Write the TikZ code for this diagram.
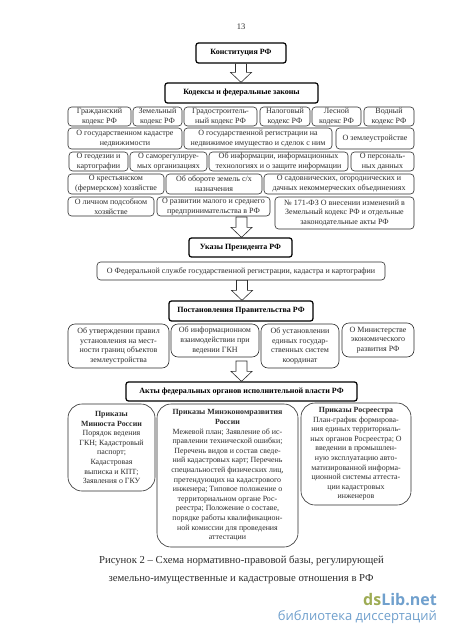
\documentclass[tikz,border=0pt]{standalone}
\usepackage{fontspec}
\setmainfont{Liberation Serif}
\newfontfamily\wmfont{Open Sans}
\usetikzlibrary{calc}
\definecolor{dsolive}{RGB}{158,172,84}
\definecolor{dsblue}{RGB}{112,160,205}
\definecolor{inkgray}{RGB}{45,45,45}
\tikzset{
  x=1pt,y=-1pt,
  basebox/.style={align=center,inner sep=0pt,text=black,font=\fontsize{8}{9.8}\selectfont},
  thinbox/.style={basebox,draw=inkgray,line width=0.6pt,rounded corners=3.5pt,text=inkgray},
  softbox/.style={thinbox,rounded corners=7pt},
  bigbox/.style={thinbox,rounded corners=14pt,font=\fontsize{7.9}{9.6}\selectfont},
  headbox/.style={basebox,draw=black,line width=1.25pt,rounded corners=2.5pt,font=\fontsize{8}{10}\selectfont\bfseries},
  blockarrow/.style={draw=inkgray,fill=white,line width=0.6pt,line join=miter},
  pagetext/.style={inner sep=0pt,text=inkgray,font=\fontsize{10.7}{13}\selectfont},
}
\newcommand{\bx}[7]{\node[#1,minimum width={(#5-#3)*1pt},minimum height={(#6-#4)*1pt}] (#2) at ({(#3+#5)/2},{(#4+#6)/2}) {#7};}
\newcommand{\blk}[2]{\draw[blockarrow] let \p1=(#1),\p2=(#2) in
  (\x1-5.5pt,\y1) -- (\x1-5.5pt,\y2+10pt) -- (\x1-10.5pt,\y2+10pt) -- (\x1,\y2) -- (\x1+10.5pt,\y2+10pt) -- (\x1+5.5pt,\y2+10pt) -- (\x1+5.5pt,\y1) -- cycle;}
\begin{document}
\begin{tikzpicture}
\useasboundingbox[fill=white] (0,0) rectangle (450,637);
\node[pagetext,font=\fontsize{8.5}{10}\selectfont] (pageno) at (241,27) {13};

\bx{headbox}{konst}{196}{43}{286}{63}{Конституция РФ}
\bx{headbox}{kodeks}{165}{83}{318}{103}{Кодексы и федеральные законы}

\bx{thinbox}{r1a}{68}{107}{131}{126}{Гражданский\\кодекс РФ}
\bx{thinbox}{r1b}{133}{107}{182}{126}{Земельный\\кодекс РФ}
\bx{thinbox}{r1c}{184}{107}{257}{126}{Градостроитель-\\ный кодекс РФ}
\bx{thinbox}{r1d}{260}{107}{310}{126}{Налоговый\\кодекс РФ}
\bx{thinbox}{r1e}{312}{107}{361}{126}{Лесной\\кодекс РФ}
\bx{thinbox}{r1f}{364}{107}{414}{126}{Водный\\кодекс РФ}

\bx{thinbox}{r2a}{68}{128}{182}{149}{О государственном кадастре\\недвижимости}
\bx{thinbox}{r2b}{184}{128}{332}{149}{О государственной регистрации на\\недвижимое имущество и сделок с ним}
\bx{thinbox}{r2c}{336}{128}{414}{149}{О землеустройстве}

\bx{thinbox}{r3a}{69}{152}{128}{171}{О геодезии и\\картографии}
\bx{thinbox}{r3b}{130}{152}{207}{171}{О саморегулируе-\\мых организациях}
\bx{thinbox}{r3c}{209}{152}{348}{171}{Об информации, информационных\\технологиях и о защите информации}
\bx{thinbox}{r3d}{351}{152}{414}{171}{О персональ-\\ных данных}

\bx{thinbox}{r4a}{68}{174}{164}{194}{О крестьянском\\(фермерском) хозяйстве}
\bx{thinbox}{r4b}{166}{174}{262}{194}{Об обороте земель с/х\\назначения}
\bx{thinbox}{r4c}{264}{174}{414}{194}{О садовнических, огороднических и\\дачных некоммерческих объединениях}

\bx{thinbox}{r5a}{68}{197}{154}{216}{О личном подсобном\\хозяйстве}
\bx{thinbox}{r5b}{157}{197}{270}{216}{О развитии малого и среднего\\предпринимательства в РФ}
\bx{thinbox}{r5c}{275}{197}{414}{229}{№ 171-ФЗ О внесении изменений в\\Земельный кодекс РФ и отдельные\\законодательные акты РФ}

\bx{headbox}{ukaz}{189}{238}{292}{257}{Указы Президента РФ}
\bx{thinbox}{feder}{97}{262}{385}{280}{О Федеральной службе государственной регистрации, кадастра и картографии}
\bx{headbox}{post}{169}{301}{313}{321}{Постановления Правительства РФ}

\bx{softbox}{p1}{68}{324}{169}{368}{Об утверждении правил\\установления на мест-\\ности границ объектов\\землеустройства}
\bx{softbox}{p2}{171}{324}{259}{357}{Об информационном\\взаимодействии при\\ведении ГКН}
\bx{softbox}{p3}{261}{324}{339}{368}{Об установлении\\единых государ-\\ственных систем\\координат}
\bx{softbox}{p4}{342}{323}{414}{357}{О Министерстве\\экономического\\развития РФ}

\bx{headbox}{akty}{126}{382}{357}{401}{Акты федеральных органов исполнительной власти РФ}

\bx{bigbox}{b1}{68}{404}{155}{491}{\textbf{Приказы}\\\textbf{Минюста России}\\Порядок ведения\\ГКН; Кадастровый\\паспорт;\\Кадастровая\\выписка и КПТ;\\Заявления о ГКУ}
\bx{bigbox}{b2}{157}{404}{298}{547}{\textbf{Приказы Минэкономразвития}\\\textbf{России}\\Межевой план; Заявление об ис-\\правлении технической ошибки;\\Перечень видов и состав сведе-\\ний кадастровых карт; Перечень\\специальностей физических лиц,\\претендующих на кадастрового\\инженера; Типовое положение о\\территориальном органе Рос-\\реестра; Положение о составе,\\порядке работы квалификацион-\\ной комиссии для проведения\\аттестации}
\bx{bigbox}{b3}{301}{403}{411}{505}{\textbf{Приказы Росреестра}\\План-график формирова-\\ния единых территориаль-\\ных органов Росреестра; О\\введении в промышлен-\\ную эксплуатацию авто-\\матизированной информа-\\ционной системы аттеста-\\ции кадастровых\\инженеров}

\coordinate (arrowB) at (241.5,217);
\coordinate (arrowD) at (241.5,361);
\blk{konst.south}{kodeks.north}
\blk{arrowB}{ukaz.north}
\blk{[xshift=1pt]feder.south}{post.north}
\blk{arrowD}{akty.north}

\node[pagetext] (cap1) at (241.5,561) {Рисунок 2 – Схема нормативно-правовой базы, регулирующей};
\node[pagetext] (cap2) at (241,579) {земельно-имущественные и кадастровые отношения в РФ};

\node[anchor=east,inner sep=0pt,font=\wmfont\bfseries\fontsize{16}{18}\selectfont] (wm1) at (437,600) {\textcolor{dsolive}{ds}\textcolor{dsblue}{Lib.net}};
\node[anchor=east,inner sep=0pt,text=dsblue,font=\wmfont\fontsize{13}{15}\selectfont] (wm2) at (437,617) {библиотека диссертаций};
\end{tikzpicture}
\end{document}
